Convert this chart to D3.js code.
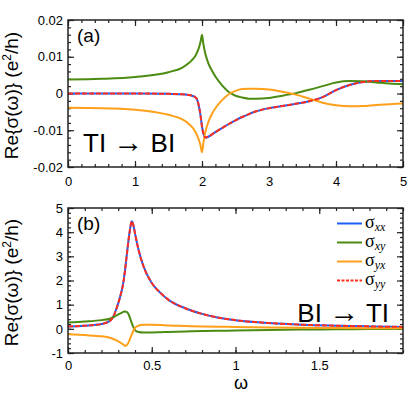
<!DOCTYPE html>
<html>
<head>
<meta charset="utf-8">
<script src="https://cdn.jsdelivr.net/npm/d3@7"></script>
<style>
  body { margin: 0; background: #fff; }
  svg text { font-family: "Liberation Sans", Arial, Helvetica, sans-serif; fill: #000; }
</style>
</head>
<body>
<div id="chart"></div>
<script>
// Panel (a): TI -> BI, omega from 0 to 5
const omegaA = [0, 0.5, 1, 1.5, 1.7, 1.8, 1.85, 1.9, 1.93, 1.96, 1.98, 2.0, 2.02, 2.05, 2.1, 2.15, 2.2, 2.3, 2.4, 2.5, 2.6, 2.7, 2.8, 3.0, 3.2, 3.4, 3.6, 3.8, 4.0, 4.2, 4.4, 4.6, 4.8, 5.0];
const sxxA = [0, 0, 0, -0.0001, -0.0002, -0.0004, -0.0006, -0.0010, -0.0018, -0.0040, -0.0062, -0.0090, -0.0108, -0.0120, -0.0117, -0.0111, -0.0105, -0.0094, -0.0083, -0.0073, -0.0064, -0.0056, -0.0049, -0.0040, -0.0034, -0.0028, -0.0021, -0.0010, 0.0009, 0.0023, 0.0031, 0.0034, 0.0034, 0.0034];
const sxyA = [0.0038, 0.0040, 0.0045, 0.0058, 0.0070, 0.0082, 0.0091, 0.0102, 0.0113, 0.0128, 0.0142, 0.0160, 0.0135, 0.0108, 0.0080, 0.0062, 0.0046, 0.0022, 0.0004, -0.0006, -0.0011, -0.0014, -0.0014, -0.0012, -0.0006, 0.0001, 0.0010, 0.0020, 0.0030, 0.0034, 0.0033, 0.0030, 0.0027, 0.0025];
const syxA = [-0.0039, -0.0040, -0.0044, -0.0058, -0.0070, -0.0082, -0.0091, -0.0104, -0.0115, -0.0130, -0.0143, -0.0160, -0.0135, -0.0105, -0.0075, -0.0055, -0.0040, -0.0018, -0.0002, 0.0007, 0.0012, 0.0013, 0.0013, 0.0011, 0.0005, -0.0003, -0.0014, -0.0025, -0.0032, -0.0035, -0.0034, -0.0031, -0.0029, -0.0027];
const syyA = [0, 0, 0, -0.0001, -0.0002, -0.0004, -0.0006, -0.0010, -0.0018, -0.0040, -0.0062, -0.0090, -0.0108, -0.0120, -0.0117, -0.0111, -0.0105, -0.0094, -0.0083, -0.0073, -0.0064, -0.0056, -0.0049, -0.0040, -0.0034, -0.0028, -0.0021, -0.0010, 0.0009, 0.0023, 0.0031, 0.0034, 0.0034, 0.0034];

// Panel (b): BI -> TI, omega from 0 to 2
const omegaB = [0, 0.1, 0.2, 0.25, 0.27, 0.29, 0.31, 0.33, 0.34, 0.35, 0.36, 0.37, 0.38, 0.39, 0.4, 0.42, 0.45, 0.5, 0.55, 0.6, 0.7, 0.8, 0.9, 1.0, 1.2, 1.4, 1.6, 1.8, 2.0];
const sxxB = [0.1, 0.13, 0.2, 0.33, 0.5, 0.85, 1.3, 1.9, 2.4, 3.0, 3.6, 4.1, 4.45, 4.3, 3.95, 3.3, 2.6, 1.9, 1.5, 1.2, 0.85, 0.62, 0.46, 0.36, 0.24, 0.17, 0.13, 0.1, 0.08];
const sxyB = [0.26, 0.3, 0.36, 0.42, 0.48, 0.56, 0.63, 0.7, 0.72, 0.7, 0.62, 0.45, 0.25, 0.08, -0.05, -0.13, -0.15, -0.15, -0.14, -0.13, -0.11, -0.09, -0.08, -0.07, -0.05, -0.03, -0.02, -0.01, 0.0];
const syxB = [-0.22, -0.26, -0.31, -0.37, -0.42, -0.48, -0.56, -0.65, -0.7, -0.68, -0.58, -0.42, -0.25, -0.08, 0.04, 0.13, 0.17, 0.17, 0.16, 0.14, 0.12, 0.1, 0.09, 0.08, 0.06, 0.04, 0.03, 0.02, 0.02];
const syyB = [0.1, 0.13, 0.2, 0.33, 0.5, 0.85, 1.3, 1.9, 2.4, 3.0, 3.6, 4.1, 4.45, 4.3, 3.95, 3.3, 2.6, 1.9, 1.5, 1.2, 0.85, 0.62, 0.46, 0.36, 0.24, 0.17, 0.13, 0.1, 0.08];

// tick labels
const xTicksA = [0, 1, 2, 3, 4, 5];
const yTicksA = [-0.02, -0.01, 0, 0.01, 0.02];
const xTicksB = [0, 0.5, 1, 1.5];
const yTicksB = [-1, 0, 1, 2, 3, 4, 5];

const legendNames = ["xx", "xy", "yx", "yy"];

const colors = { xx: "#1f5ff5", xy: "#4b8b12", yx: "#ffa01a", yy: "#ff2d1d" };

const svgWidth = 416;
const svgHeight = 394;

const svg = d3.select("#chart")
  .append("svg")
  .attr("width", svgWidth)
  .attr("height", svgHeight);

function drawPanel(cfg) {
  const x = d3.scaleLinear().domain(cfg.xDomain).range([cfg.left, cfg.right]);
  const y = d3.scaleLinear().domain(cfg.yDomain).range([cfg.bottom, cfg.top]);
  const g = svg.append("g");

  // clip so curves stay inside the frame
  g.append("clipPath")
    .attr("id", cfg.id)
    .append("rect")
    .attr("x", cfg.left).attr("y", cfg.top)
    .attr("width", cfg.right - cfg.left).attr("height", cfg.bottom - cfg.top);

  const fmt = d => d === 0 ? "0" : String(d);

  // major ticks with labels (inward)
  g.append("g")
    .attr("transform", `translate(0,${cfg.bottom})`)
    .call(d3.axisBottom(x).tickValues(cfg.xTicks).tickSize(-6).tickPadding(cfg.xPad).tickFormat(fmt));
  g.append("g")
    .attr("transform", `translate(${cfg.left},0)`)
    .call(d3.axisLeft(y).tickValues(cfg.yTicks).tickSize(-6).tickPadding(5).tickFormat(fmt));
  // mirrored ticks top and right
  g.append("g")
    .attr("transform", `translate(0,${cfg.top})`)
    .call(d3.axisTop(x).tickValues(cfg.xTicks).tickSize(-6).tickFormat(""));
  g.append("g")
    .attr("transform", `translate(${cfg.right},0)`)
    .call(d3.axisRight(y).tickValues(cfg.yTicks).tickSize(-6).tickFormat(""));

  // minor ticks
  const xMinor = d3.range(cfg.xDomain[0], cfg.xDomain[1] + 1e-9, cfg.xMinor);
  const yMinor = d3.range(cfg.yDomain[0], cfg.yDomain[1] + 1e-9, cfg.yMinor);
  g.append("g").attr("transform", `translate(0,${cfg.bottom})`)
    .call(d3.axisBottom(x).tickValues(xMinor).tickSize(-3).tickFormat(""));
  g.append("g").attr("transform", `translate(0,${cfg.top})`)
    .call(d3.axisTop(x).tickValues(xMinor).tickSize(-3).tickFormat(""));
  g.append("g").attr("transform", `translate(${cfg.left},0)`)
    .call(d3.axisLeft(y).tickValues(yMinor).tickSize(-3).tickFormat(""));
  g.append("g").attr("transform", `translate(${cfg.right},0)`)
    .call(d3.axisRight(y).tickValues(yMinor).tickSize(-3).tickFormat(""));

  g.selectAll(".domain").remove();
  g.selectAll(".tick line").attr("stroke", "#222").attr("stroke-width", 1.2);
  g.selectAll(".tick text").attr("font-size", "13px").attr("fill", "#000")
    .style("font-family", "'Liberation Sans', Arial, sans-serif");

  // curves
  const line = d3.line()
    .x(d => x(d[0]))
    .y(d => y(d[1]))
    .curve(d3.curveMonotoneX);

  const curves = g.append("g").attr("clip-path", `url(#${cfg.id})`);
  cfg.series.forEach(s => {
    curves.append("path")
      .datum(cfg.omega.map((w, i) => [w, s.values[i]]))
      .attr("fill", "none")
      .attr("stroke", colors[s.key])
      .attr("stroke-width", 2)
      .attr("stroke-dasharray", s.key === "yy" ? "5,2" : null)
      .attr("stroke-linejoin", "round")
      .attr("d", line);
  });

  // frame
  g.append("rect")
    .attr("x", cfg.left).attr("y", cfg.top)
    .attr("width", cfg.right - cfg.left).attr("height", cfg.bottom - cfg.top)
    .attr("fill", "none")
    .attr("stroke", "#222")
    .attr("stroke-width", 1.5);

  // y axis label
  const yl = g.append("text")
    .attr("transform", `translate(18,${(cfg.top + cfg.bottom) / 2 + 2}) rotate(-90)`)
    .attr("text-anchor", "middle")
    .attr("font-size", "19px");
  yl.append("tspan").text("Re{σ(ω)} (e");
  yl.append("tspan").attr("font-size", "12px").attr("dy", "-7").text("2");
  yl.append("tspan").attr("dy", "7").text("/h)");

  // panel letter
  g.append("text")
    .attr("x", cfg.left + 9).attr("y", cfg.top + 22)
    .attr("font-size", "19px")
    .text(cfg.letter);

  return { g, x, y };
}

const panelA = drawPanel({
  id: "clipA", left: 68, right: 403, top: 20, bottom: 167,
  xDomain: [0, 5], yDomain: [-0.02, 0.02],
  xTicks: xTicksA, yTicks: yTicksA, xMinor: 0.2, yMinor: 0.002, xPad: 10,
  letter: "(a)", omega: omegaA,
  series: [
    { key: "xx", values: sxxA },
    { key: "xy", values: sxyA },
    { key: "yx", values: syxA },
    { key: "yy", values: syyA }
  ]
});

const panelB = drawPanel({
  id: "clipB", left: 68, right: 403, top: 208, bottom: 353,
  xDomain: [0, 2], yDomain: [-1, 5],
  xTicks: xTicksB, yTicks: yTicksB, xMinor: 0.1, yMinor: 0.2, xPad: 8,
  letter: "(b)", omega: omegaB,
  series: [
    { key: "xx", values: sxxB },
    { key: "xy", values: sxyB },
    { key: "yx", values: syxB },
    { key: "yy", values: syyB }
  ]
});

// transition labels, thin arrow from a serif font
function transitionLabel(sel, left, right) {
  sel.append("tspan").text(left + " ");
  sel.append("tspan")
    .style("font-family", "'Liberation Serif', 'Times New Roman', serif")
    .attr("font-size", "30px")
    .text("→");
  sel.append("tspan").text(" " + right);
}

panelA.g.append("text")
  .attr("x", 83).attr("y", 152)
  .attr("font-size", "26px")
  .call(transitionLabel, "TI", "BI");

panelB.g.append("text")
  .attr("x", 389).attr("y", 322)
  .attr("text-anchor", "end")
  .attr("font-size", "26px")
  .call(transitionLabel, "BI", "TI");

// x axis label
svg.append("text")
  .attr("x", 241).attr("y", 389)
  .attr("text-anchor", "middle")
  .attr("font-size", "18px")
  .text("ω");

// legend in panel (b)
const legend = panelB.g.append("g");
legendNames.forEach((name, i) => {
  const ly = 223.5 + i * 19;
  legend.append("line")
    .attr("x1", 337).attr("x2", 362)
    .attr("y1", ly).attr("y2", ly)
    .attr("stroke", colors[name])
    .attr("stroke-width", 2)
    .attr("stroke-dasharray", name === "yy" ? "3,1.5" : null);
  const t = legend.append("text")
    .attr("x", 365).attr("y", ly + 4)
    .style("font-family", "'Liberation Serif', 'Times New Roman', serif")
    .attr("font-size", "18px");
  t.append("tspan").text("σ");
  t.append("tspan")
    .attr("dy", 3)
    .attr("font-size", "12px")
    .attr("font-style", "italic")
    .text(name);
});
</script>
</body>
</html>
